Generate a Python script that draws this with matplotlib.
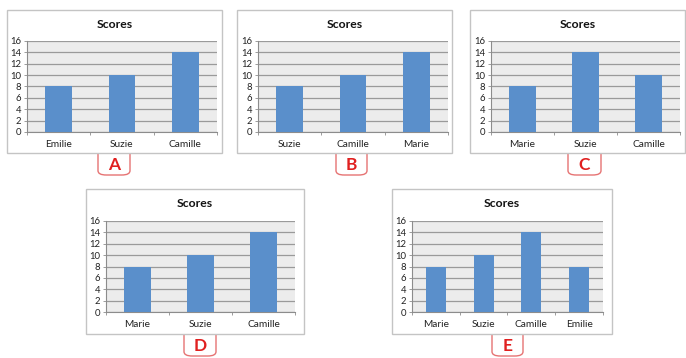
"""Five small 'Scores' bar charts laid out on one sheet, each with a letter tag."""

import matplotlib

matplotlib.use("Agg")

import matplotlib.pyplot as plt
from matplotlib.patches import FancyBboxPatch, Rectangle

W, H = 686, 358

letters = ["A", "B", "C", "D", "E"]
names_a = ["Emilie", "Suzie", "Camille"]
scores_a = [8, 10, 14]
names_b = ["Suzie", "Camille", "Marie"]
scores_b = [8, 10, 14]
names_c = ["Marie", "Suzie", "Camille"]
scores_c = [8, 14, 10]
names_d = ["Marie", "Suzie", "Camille"]
scores_d = [8, 10, 14]
names_e = ["Marie", "Suzie", "Camille", "Emilie"]
scores_e = [8, 10, 14, 8]
y_ticks = [0, 2, 4, 6, 8, 10, 12, 14, 16]

# pixel boxes: frame (l, t, r, b), plot area (l, t, r, b), tag (l, r)
layout = [
    ((7, 10, 222, 153), (27, 41, 217, 132), (98, 130)),
    ((237, 10, 452, 153), (258, 41, 448, 132), (336, 367)),
    ((470, 10, 685, 153), (491, 41, 680, 132), (568, 601)),
    ((86, 189, 304, 334), (106, 221, 295, 312), (184, 216)),
    ((392, 189, 612, 334), (412, 221, 603, 312), (492, 523)),
]

FONT = "Lato"
BAR = "#5a8fcb"
GRID = "#9a9a9a"
PANEL_BG = "#ececec"
TAG_RED = "#e05050"


def fx(px):
    return px / W


def fy(py):
    return 1 - py / H


def draw_chart(fig, frame, plot, tag, names, scores, letter):
    fl, ft, fr, fb = frame
    fig.patches.append(Rectangle((fx(fl), fy(fb)), fx(fr - fl), (fb - ft) / H,
                                 transform=fig.transFigure, facecolor="white",
                                 edgecolor="#c4c4c4", linewidth=1.0, zorder=-2))

    pl, pt, pr, pb = plot
    ax = fig.add_axes([fx(pl), fy(pb), fx(pr - pl), (pb - pt) / H])
    ax.set_zorder(2)
    ax.set_facecolor(PANEL_BG)
    x = range(len(names))
    ax.bar(x, scores, width=0.42, color=BAR, zorder=3)
    ax.set_xlim(-0.5, len(names) - 0.5)
    ax.set_ylim(0, 16)
    ax.set_yticks(y_ticks)
    ax.yaxis.grid(True, color=GRID, linewidth=0.9, zorder=1)
    ax.set_axisbelow(True)
    for s in ("top", "right"):
        ax.spines[s].set_visible(False)
    for s in ("left", "bottom"):
        ax.spines[s].set_color("#8c8c8c")
        ax.spines[s].set_linewidth(0.8)
    ax.tick_params(axis="y", length=2, width=0.6, color="#8c8c8c",
                   labelsize=6.8, pad=2, labelcolor="#222222")
    # category labels centred, tick marks on category boundaries
    ax.set_xticks(list(x))
    ax.set_xticklabels(names, fontsize=7.3, fontfamily=FONT, color="#222222")
    ax.tick_params(axis="x", length=0, pad=6)
    ax.set_xticks([i - 0.5 for i in range(len(names) + 1)], minor=True)
    ax.tick_params(axis="x", which="minor", length=2.5, width=0.6, color="#8c8c8c")
    for lab in ax.get_yticklabels():
        lab.set_fontfamily(FONT)

    fig.text(fx((fl + fr) / 2), fy(ft + 14), "Scores", ha="center", va="center",
             fontsize=8.8, fontweight="bold", fontfamily=FONT, color="#111111")

    # tag hangs from the frame: its top edge is tucked under the frame
    tl, tr = tag
    top = fb - 6
    bot = fb + 22
    fig.patches.append(FancyBboxPatch((fx(tl), fy(bot)), fx(tr - tl), (bot - top) / H,
                                      boxstyle="round,pad=0,rounding_size=0.012",
                                      transform=fig.transFigure, facecolor="white",
                                      edgecolor=TAG_RED, linewidth=1.0, alpha=0.8,
                                      zorder=-3))
    fig.text(fx((tl + tr) / 2), fy(fb + 12), letter, ha="center",
             va="center", fontsize=12.5, fontweight="bold", fontfamily=FONT,
             color="#e02020")


fig = plt.figure(figsize=(W / 100, H / 100), dpi=100)
all_names = [names_a, names_b, names_c, names_d, names_e]
all_scores = [scores_a, scores_b, scores_c, scores_d, scores_e]
for (frame, plot, tag), names, scores, letter in zip(layout, all_names, all_scores, letters):
    draw_chart(fig, frame, plot, tag, names, scores, letter)

fig.savefig("out.png", dpi=100)
